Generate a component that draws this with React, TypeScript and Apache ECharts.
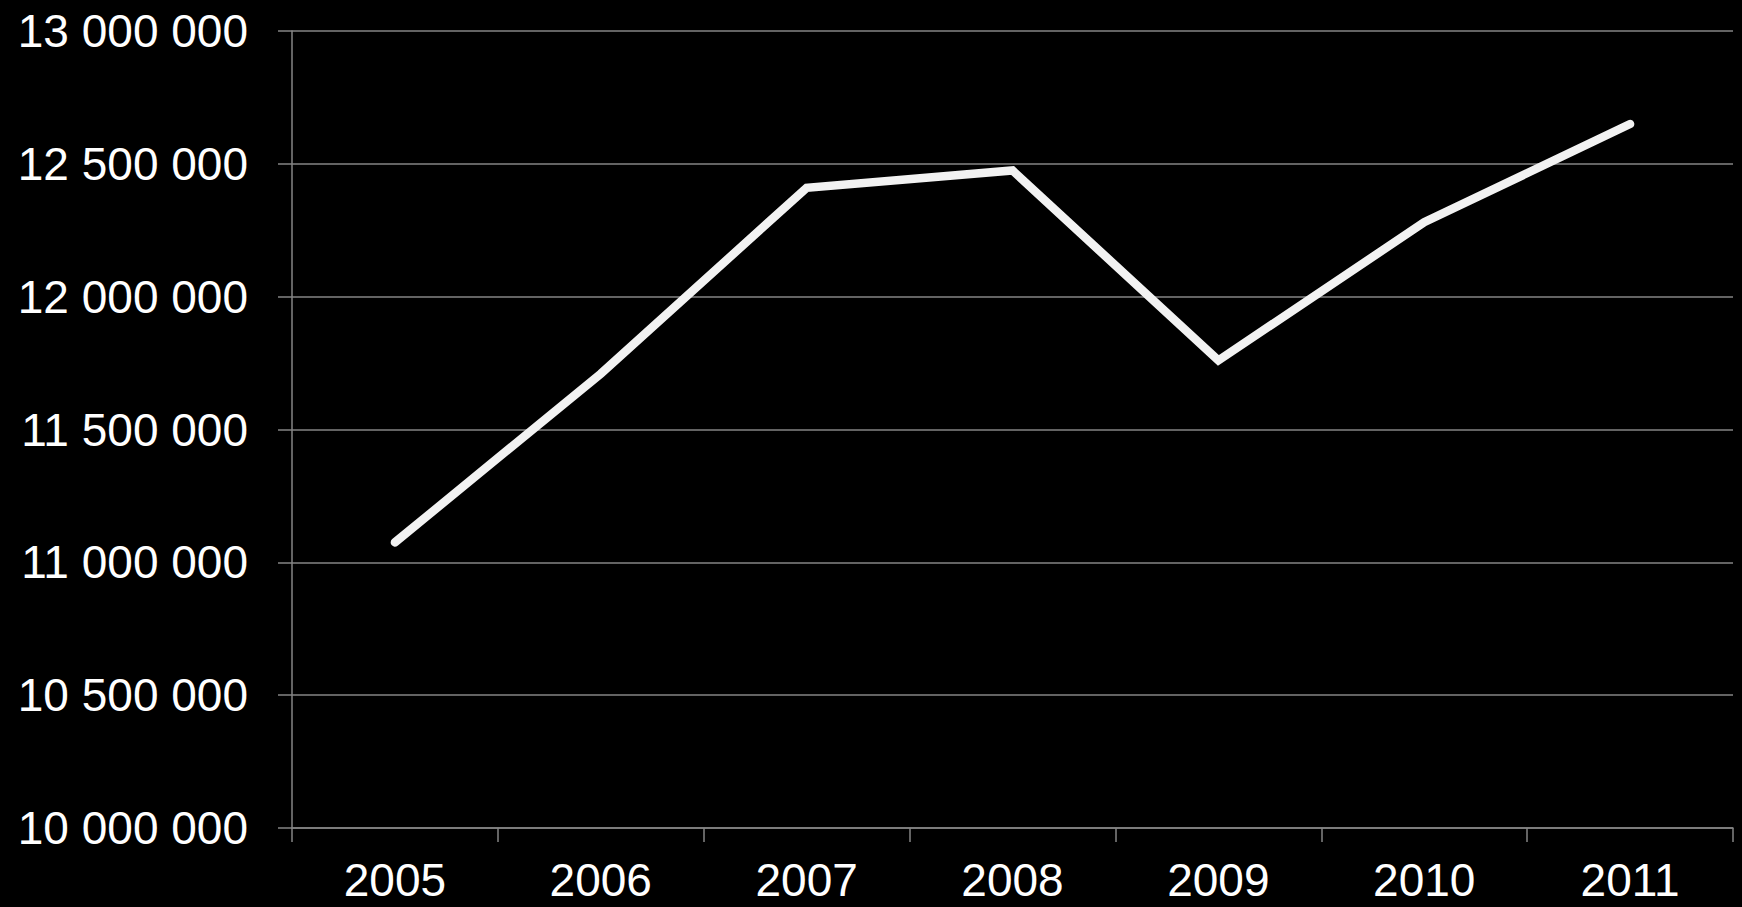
import React, { useEffect, useRef } from "react";
import * as echarts from "echarts";

const years = ["2005", "2006", "2007", "2008", "2009", "2010", "2011"];
const values = [11075000, 11710000, 12410000, 12475000, 11760000, 12280000, 12650000];
const yMin = 10000000;
const yMax = 13000000;
const yStep = 500000;

function fmt(v: number): string {
  return String(Math.round(v)).replace(/\B(?=(\d{3})+(?!\d))/g, " ");
}

export default function App() {
  const ref = useRef<HTMLDivElement>(null);
  useEffect(() => {
    document.body.style.margin = "0";
    document.body.style.background = "#000";
    if (!ref.current) return;
    const chart = echarts.init(ref.current, undefined, { renderer: "svg" });
    const gray = "#858585";
    const font = "'Liberation Sans', Arial, sans-serif";
    chart.setOption({
      animation: false,
      backgroundColor: "#000000",
      grid: { left: 292, right: 9, top: 31, bottom: 79, containLabel: false },
      xAxis: {
        type: "category",
        data: years,
        boundaryGap: true,
        axisLine: { show: true, lineStyle: { color: gray, width: 1.5 } },
        axisTick: { show: true, length: 14, inside: false, alignWithLabel: false, lineStyle: { color: gray, width: 1.5 } },
        axisLabel: {
          color: "#ffffff",
          fontFamily: font,
          fontSize: 46,
          lineHeight: 40,
          margin: 52,
          verticalAlign: "middle",
        },
        splitLine: { show: false },
      },
      yAxis: {
        type: "value",
        min: yMin,
        max: yMax,
        interval: yStep,
        axisLine: { show: true, lineStyle: { color: gray, width: 1.5 } },
        axisTick: { show: true, length: 14, inside: false, lineStyle: { color: gray, width: 1.5 } },
        axisLabel: {
          color: "#ffffff",
          fontFamily: font,
          fontSize: 46,
          margin: 44,
          formatter: (v: number) => fmt(v),
        },
        splitLine: { show: true, lineStyle: { color: gray, width: 1.5 } },
      },
      series: [
        {
          type: "line",
          data: values,
          symbol: "none",
          lineStyle: { color: "#f2f2f2", width: 8.5, cap: "round", join: "miter" },
        },
      ],
    });
    return () => chart.dispose();
  }, []);
  return (
    <div
      ref={ref}
      style={{ position: "fixed", left: 0, top: 0, width: 1742, height: 907 }}
    />
  );
}
